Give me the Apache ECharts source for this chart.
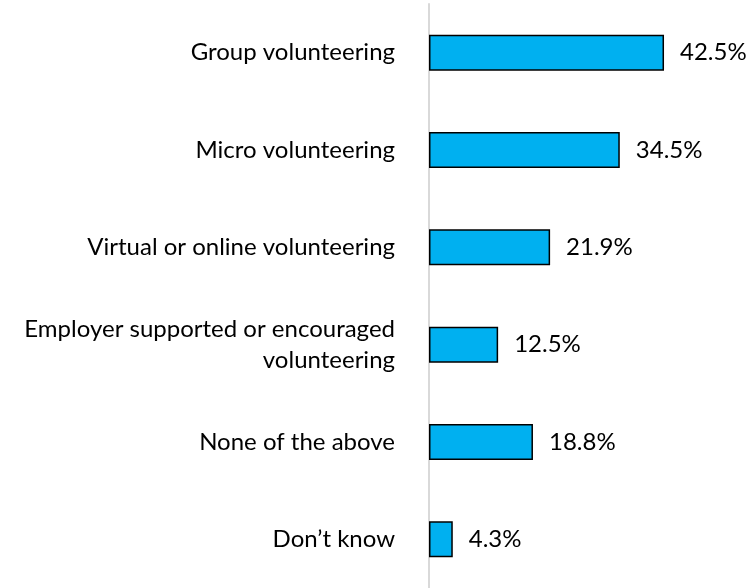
<!DOCTYPE html>
<html>
<head>
<meta charset="utf-8">
<script src="https://cdn.jsdelivr.net/npm/echarts@6/dist/echarts.min.js"></script>
<style>
  html, body { margin: 0; padding: 0; background: #ffffff; }
  #chart { width: 751px; height: 588px; }
</style>
</head>
<body>
<div id="chart"></div>
<script>
// Volunteering types, top to bottom
const categories = [
  'Group volunteering',
  'Micro volunteering',
  'Virtual or online volunteering',
  'Employer supported or encouraged\nvolunteering',
  'None of the above',
  'Don\u2019t know'
];
const shares = [42.5, 34.5, 21.9, 12.5, 18.8, 4.3];

const FONT = 'Lato';

const chart = echarts.init(document.getElementById('chart'));
chart.setOption({
  animation: false,
  backgroundColor: '#ffffff',
  grid: { left: 429, right: 45.5, top: 4, bottom: 0, containLabel: false },
  xAxis: {
    type: 'value',
    min: 0,
    max: 50,
    show: false
  },
  yAxis: {
    type: 'category',
    data: categories,
    inverse: true,
    axisLine: { show: true, lineStyle: { color: '#d9d9d9', width: 2 } },
    axisTick: { show: false },
    axisLabel: {
      margin: 34,
      fontFamily: FONT,
      fontSize: 24,
      color: '#000000',
      align: 'right',
      lineHeight: 31
    }
  },
  series: [{
    type: 'bar',
    data: shares,
    barWidth: 36,
    itemStyle: {
      color: '#00b0f0',
      borderColor: '#000000',
      borderWidth: 1.5
    },
    label: {
      show: true,
      position: 'right',
      distance: 16,
      fontFamily: FONT,
      fontSize: 24,
      color: '#000000',
      formatter: p => p.value.toFixed(1) + '%'
    }
  }]
});
</script>
</body>
</html>
